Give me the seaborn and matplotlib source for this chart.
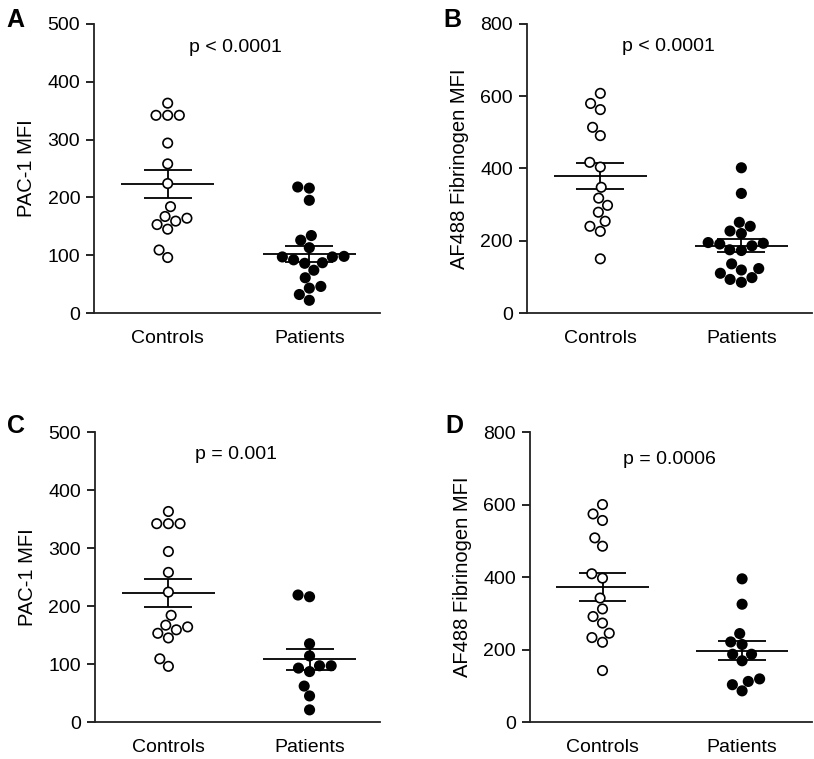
import pandas as pd
import matplotlib.pyplot as plt
import seaborn as sns
import numpy as np

sns.set_theme(style="ticks")
plt.rcParams['font.family'] = ['Liberation Sans', 'DejaVu Sans']
plt.rcParams.update({'font.size': 14, 'text.color': 'black', 'axes.labelcolor': 'black',
                     'xtick.color': 'black', 'ytick.color': 'black'})

groups = ["Controls", "Patients"]

# PAC-1 MFI, all patients (A) and patient subset (C)
ctrl_pac1 = [363, 342, 342, 342, 294, 258, 224, 184, 164, 167, 159, 153, 145, 109, 96]
pat_pac1_all = [216, 218, 195, 134, 126, 113, 97, 97, 98, 87, 86, 92, 74, 61, 46, 43, 32, 22]
pat_pac1_sub = [216, 219, 135, 114, 97, 97, 87, 93, 62, 45, 21]

# AF488 fibrinogen MFI, all patients (B) and patient subset (D)
ctrl_fib_b = [608, 580, 563, 514, 491, 417, 404, 348, 318, 298, 279, 254, 240, 226, 150]
pat_fib_all = [402, 331, 251, 240, 227, 220, 193, 186, 191, 195, 173, 175, 136, 119, 123,
               110, 98, 93, 85]
ctrl_fib_d = [600, 574, 556, 508, 485, 409, 397, 342, 312, 291, 273, 245, 233, 220, 142]
pat_fib_sub = [395, 325, 244, 214, 221, 187, 187, 169, 112, 119, 103, 86]

panels = [
    ("A", ctrl_pac1, pat_pac1_all, "PAC-1 MFI", 500, 100, "p < 0.0001", 460),
    ("B", ctrl_fib_b, pat_fib_all, "AF488 Fibrinogen MFI", 800, 200, "p < 0.0001", 738),
    ("C", ctrl_pac1, pat_pac1_sub, "PAC-1 MFI", 500, 100, "p = 0.001", 461),
    ("D", ctrl_fib_d, pat_fib_sub, "AF488 Fibrinogen MFI", 800, 200, "p = 0.0006", 724),
]

# axes boxes in figure fraction: left, bottom, width, height
boxes = [
    [0.1155, 0.5876, 0.3515, 0.3808],
    [0.6474, 0.5876, 0.3500, 0.3808],
    [0.1167, 0.0487, 0.3503, 0.3821],
    [0.6510, 0.0487, 0.3464, 0.3821],
]
letter_pos = [(0.008, 0.990), (0.545, 0.990), (0.008, 0.455), (0.547, 0.455)]

fig = plt.figure(figsize=(8.14, 7.59), dpi=100)

for (letter, ctrl, pat, ylabel, ymax, step, ptext, py), box, lp in zip(panels, boxes, letter_pos):
    ax = fig.add_axes(box)
    df = pd.DataFrame({
        "group": ["Controls"] * len(ctrl) + ["Patients"] * len(pat),
        "value": ctrl + pat,
    })

    # mean +/- SEM
    for i, g in enumerate(groups):
        vals = df.loc[df["group"] == g, "value"].to_numpy()
        m = vals.mean()
        sem = vals.std(ddof=1) / np.sqrt(len(vals))
        ax.hlines(m, i - 0.33, i + 0.33, color="black", lw=1.3, zorder=2)
        ax.hlines([m - sem, m + sem], i - 0.17, i + 0.17, color="black", lw=1.3, zorder=2)
        ax.vlines(i, m - sem, m + sem, color="black", lw=1.3, zorder=2)

    sns.swarmplot(data=df, x="group", y="value", hue="group", order=groups,
                  palette={"Controls": "white", "Patients": "black"},
                  edgecolor="black", linewidth=1.2, size=6.8, legend=False,
                  zorder=3, ax=ax)

    ax.set_xlim(-0.52, 1.5)
    ax.set_ylim(0, ymax)
    ax.set_yticks(np.arange(0, ymax + 1, step))
    ax.set_xlabel("")
    ax.set_ylabel(ylabel, fontsize=14.5, labelpad=8)
    ax.tick_params(axis="y", labelsize=14, length=6, width=1.2, pad=4)
    ax.tick_params(axis="x", labelsize=14, length=0, pad=12)
    sns.despine(ax=ax)
    for s in ["left", "bottom"]:
        ax.spines[s].set_linewidth(1.3)
        ax.spines[s].set_color("#222222")
    ax.text(0.48, py, ptext, ha="center", va="center", fontsize=14)

    fig.text(lp[0], lp[1], letter, fontsize=18, fontweight="bold", va="top", ha="left")

plt.savefig("out.png", dpi=100)
plt.close()
